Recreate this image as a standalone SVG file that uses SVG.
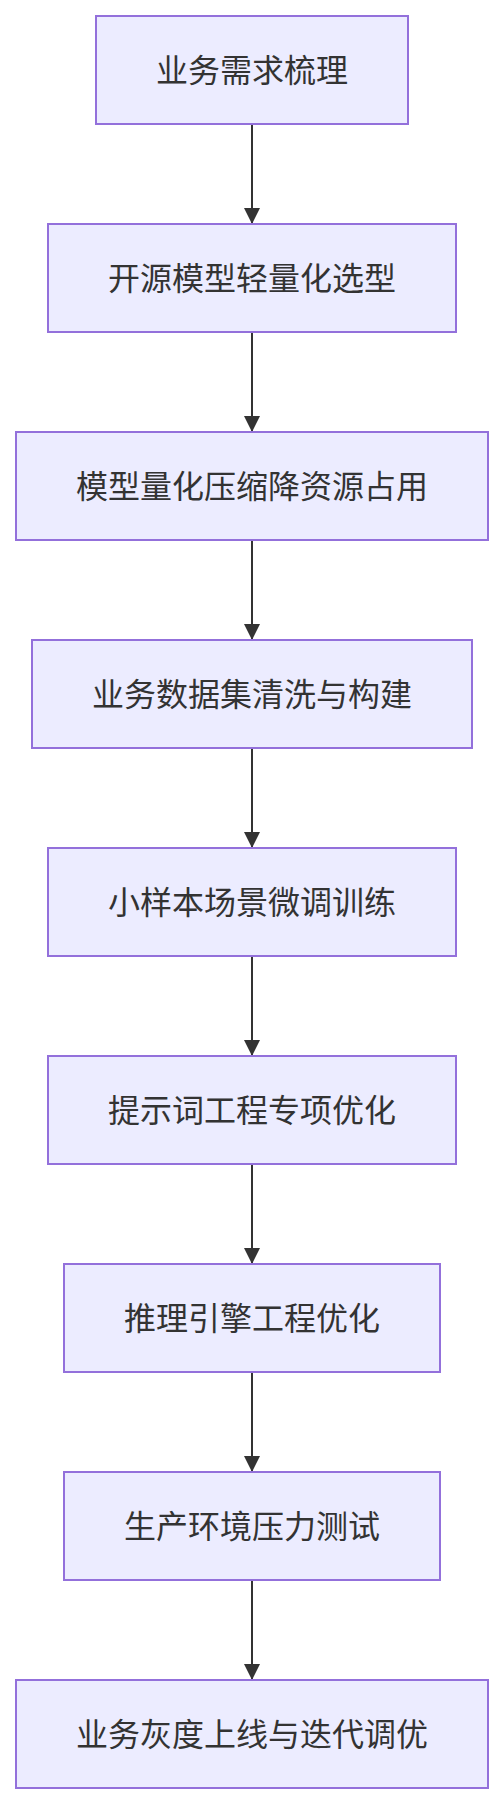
<svg xmlns="http://www.w3.org/2000/svg" width="504" height="1804" viewBox="0 0 504 1804">
<style>
.node rect{fill:#ECECFF;stroke:#9370DB;stroke-width:2}
.node text{font-family:"Noto Sans CJK SC","Noto Sans",sans-serif;font-size:32px;fill:#333;text-anchor:middle;dominant-baseline:central}
.edge{stroke:#333;stroke-width:2;fill:none}
</style>
<defs>
<marker id="arrow" viewBox="0 0 16 16" refX="16" refY="8" markerWidth="16" markerHeight="16" markerUnits="userSpaceOnUse" orient="auto">
<path d="M0,0 L16,8 L0,16 z" fill="#333"/>
</marker>
</defs>
<rect width="504" height="1804" fill="#fff"/>
<g id="connectors">
<line class="edge" x1="252" y1="124" x2="252" y2="224" marker-end="url(#arrow)"/>
<line class="edge" x1="252" y1="332" x2="252" y2="432" marker-end="url(#arrow)"/>
<line class="edge" x1="252" y1="540" x2="252" y2="640" marker-end="url(#arrow)"/>
<line class="edge" x1="252" y1="748" x2="252" y2="848" marker-end="url(#arrow)"/>
<line class="edge" x1="252" y1="956" x2="252" y2="1056" marker-end="url(#arrow)"/>
<line class="edge" x1="252" y1="1164" x2="252" y2="1264" marker-end="url(#arrow)"/>
<line class="edge" x1="252" y1="1372" x2="252" y2="1472" marker-end="url(#arrow)"/>
<line class="edge" x1="252" y1="1580" x2="252" y2="1680" marker-end="url(#arrow)"/>
</g>
<g id="n1" class="node"><rect x="96" y="16" width="312" height="108"/><text x="252" y="68">业务需求梳理</text></g>
<g id="n2" class="node"><rect x="48" y="224" width="408" height="108"/><text x="252" y="276">开源模型轻量化选型</text></g>
<g id="n3" class="node"><rect x="16" y="432" width="472" height="108"/><text x="252" y="484">模型量化压缩降资源占用</text></g>
<g id="n4" class="node"><rect x="32" y="640" width="440" height="108"/><text x="252" y="692">业务数据集清洗与构建</text></g>
<g id="n5" class="node"><rect x="48" y="848" width="408" height="108"/><text x="252" y="900">小样本场景微调训练</text></g>
<g id="n6" class="node"><rect x="48" y="1056" width="408" height="108"/><text x="252" y="1108">提示词工程专项优化</text></g>
<g id="n7" class="node"><rect x="64" y="1264" width="376" height="108"/><text x="252" y="1316">推理引擎工程优化</text></g>
<g id="n8" class="node"><rect x="64" y="1472" width="376" height="108"/><text x="252" y="1524">生产环境压力测试</text></g>
<g id="n9" class="node"><rect x="16" y="1680" width="472" height="108"/><text x="252" y="1732">业务灰度上线与迭代调优</text></g>
</svg>
